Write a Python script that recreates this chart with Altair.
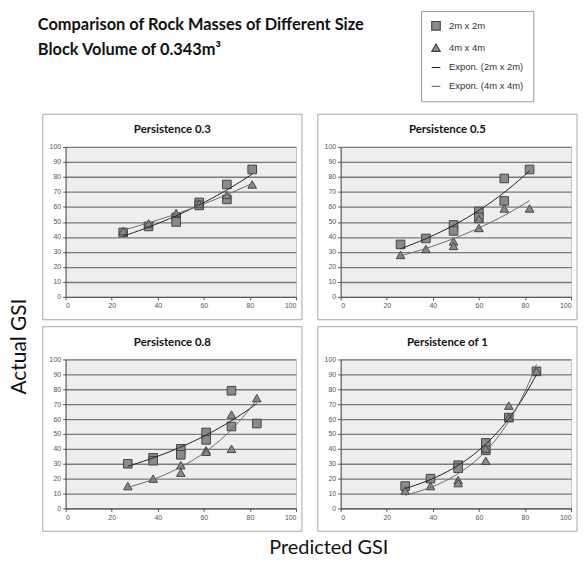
import altair as alt
import pandas as pd

# ---------------- data ----------------
PANELS = ["Persistence 0.3", "Persistence 0.5", "Persistence 0.8", "Persistence of 1"]
SERIES = ["2m x 2m", "4m x 4m", "Expon. (2m x 2m)", "Expon. (4m x 4m)"]
X_TICKS = [0, 20, 40, 60, 80, 100]
Y_TICKS = [0, 10, 20, 30, 40, 50, 60, 70, 80, 90, 100]
TITLE_LINES = ["Comparison of Rock Masses of Different Size", "Block Volume of 0.343m\u00b3"]
Y_TITLE = "Actual GSI"
X_TITLE = "Predicted GSI"

# Persistence 0.3
p1_sq_x = [25, 36, 48, 48, 58, 58, 70, 70, 81]
p1_sq_y = [43, 47, 53, 50, 63, 61, 75, 65, 85]
p1_tr_x = [25, 36, 48, 58, 70, 81]
p1_tr_y = [44, 49, 56, 62, 68, 75]

# Persistence 0.5
p2_sq_x = [26, 37, 49, 49, 60, 60, 71, 71, 82]
p2_sq_y = [35, 39, 48, 44, 57, 53, 79, 64, 85]
p2_tr_x = [26, 37, 49, 49, 60, 60, 71, 82]
p2_tr_y = [28, 32, 37, 34, 52, 46, 59, 59]

# Persistence 0.8
p3_sq_x = [27, 38, 38, 50, 50, 61, 61, 72, 72, 83]
p3_sq_y = [30, 34, 32, 40, 36, 51, 46, 79, 55, 57]
p3_tr_x = [27, 38, 50, 50, 61, 61, 72, 72, 83]
p3_tr_y = [15, 20, 29, 24, 39, 38, 63, 40, 74]

# Persistence of 1
p4_sq_x = [28, 39, 51, 51, 63, 63, 73, 85]
p4_sq_y = [15, 20, 29, 27, 44, 39, 61, 92]
p4_tr_x = [28, 39, 51, 51, 63, 63, 73, 73, 85]
p4_tr_y = [12, 15, 19, 17, 32, 40, 69, 61, 92]


def make_df(sq_x, sq_y, tr_x, tr_y):
    rows = [{"x": a, "y": b, "series": SERIES[0]} for a, b in zip(sq_x, sq_y)]
    rows += [{"x": a, "y": b, "series": SERIES[1]} for a, b in zip(tr_x, tr_y)]
    return pd.DataFrame(rows)


DFS = [
    make_df(p1_sq_x, p1_sq_y, p1_tr_x, p1_tr_y),
    make_df(p2_sq_x, p2_sq_y, p2_tr_x, p2_tr_y),
    make_df(p3_sq_x, p3_sq_y, p3_tr_x, p3_tr_y),
    make_df(p4_sq_x, p4_sq_y, p4_tr_x, p4_tr_y),
]

# ---------------- styling ----------------
TITLE_FONT = "Lato"
shape_scale = alt.Scale(domain=SERIES, range=["square", "triangle-up", "stroke", "stroke"])
fill_scale = alt.Scale(domain=SERIES, range=["#8a8a8a", "#8a8a8a", "#222222", "#6a6a6a"])
stroke_scale = alt.Scale(domain=SERIES, range=["#454545", "#454545", "#222222", "#6a6a6a"])
size_scale = alt.Scale(domain=SERIES, range=[75, 75, 330, 330])

legend = alt.Legend(
    title=None, orient="none", legendX=416, legendY=0,
    padding=10, rowPadding=9, labelOffset=8,
    labelFont="Liberation Sans", labelFontSize=9.5, labelColor="#333333",
    strokeColor="#9a9a9a", fillColor="white", symbolStrokeWidth=1.1,
)

W = 232
LEFT_PAD, TOP_PAD, BOTTOM_PAD, RIGHT_PAD = 23, 33, 23, 6


def panel(title, df, h):
    xenc = alt.X("x:Q", scale=alt.Scale(domain=[0, 100]),
                 axis=alt.Axis(values=X_TICKS, grid=False, title=None))
    yenc = alt.Y("y:Q", scale=alt.Scale(domain=[0, 100]),
                 axis=alt.Axis(values=Y_TICKS, grid=True, title=None))
    pts = alt.Chart(df).mark_point(filled=True, opacity=1, strokeWidth=1).encode(
        x=xenc, y=yenc,
        shape=alt.Shape("series:N", scale=shape_scale, legend=legend),
        fill=alt.Fill("series:N", scale=fill_scale, legend=legend),
        stroke=alt.Stroke("series:N", scale=stroke_scale, legend=legend),
        size=alt.Size("series:N", scale=size_scale, legend=legend),
    )
    lines = (
        alt.Chart(df)
        .transform_regression("x", "y", method="exp", groupby=["series"])
        .transform_calculate(series='"Expon. (" + datum.series + ")"')
        .mark_line(strokeWidth=1)
        .encode(x=xenc, y=yenc,
                stroke=alt.Stroke("series:N", scale=stroke_scale, legend=legend))
    )
    one = alt.Chart(alt.Data(values=[{"t": title}]))
    border = one.mark_rect(fillOpacity=0, stroke="#a6a6a6", strokeWidth=1).encode(
        x=alt.value(-LEFT_PAD), x2=alt.value(W + RIGHT_PAD),
        y=alt.value(-TOP_PAD), y2=alt.value(h + BOTTOM_PAD),
    )
    ttl = one.mark_text(font=TITLE_FONT, fontSize=11.5, fontWeight="bold",
                        color="#111111", baseline="middle").encode(
        x=alt.value((W + RIGHT_PAD - LEFT_PAD) / 2), y=alt.value(-17), text="t:N")
    return alt.layer(border, ttl, pts, lines).properties(
        width=W, height=h,
        view=alt.ViewBackground(fill="#eeeeee", stroke="#c4c4c4"),
    )


row1 = alt.hconcat(panel(PANELS[0], DFS[0], 151), panel(PANELS[1], DFS[1], 151), spacing=14)
row2 = alt.hconcat(panel(PANELS[2], DFS[2], 150), panel(PANELS[3], DFS[3], 150), spacing=14)

# x title: its origin lines up with the left edge of the first plot area
xlab = alt.Chart(alt.Data(values=[{"t": X_TITLE}])).mark_text(
    font=TITLE_FONT, fontSize=20, color="#111111", baseline="middle").encode(
    x=alt.value(265), y=alt.value(11), text="t:N").properties(width=400, height=20)

# y title: its origin lines up with the top edge of the first plot area
ylab = alt.Chart(alt.Data(values=[{"t": Y_TITLE}])).mark_text(
    font=TITLE_FONT, fontSize=21, color="#111111", baseline="middle", angle=270).encode(
    x=alt.value(12), y=alt.value(201), text="t:N").properties(width=22, height=360)

grid = alt.vconcat(row1, row2, xlab, spacing=5)
body = alt.hconcat(ylab, grid, spacing=12)

header = alt.layer(
    alt.Chart(alt.Data(values=[{"t": TITLE_LINES[0]}])).mark_text(
        font=TITLE_FONT, fontSize=16.5, fontWeight="bold", color="#111111",
        align="left", baseline="middle").encode(x=alt.value(30), y=alt.value(14), text="t:N"),
    alt.Chart(alt.Data(values=[{"t": TITLE_LINES[1]}])).mark_text(
        font=TITLE_FONT, fontSize=16.5, fontWeight="bold", color="#111111",
        align="left", baseline="middle").encode(x=alt.value(30), y=alt.value(39), text="t:N"),
).properties(width=550, height=100)

chart = alt.vconcat(header, body, spacing=3).properties(padding=0).configure_view(
    stroke=None
).configure_axis(
    labelFont="Liberation Sans", labelFontSize=7, labelColor="#555555",
    domainColor="#555555", tickColor="#555555", tickSize=3, labelPadding=2,
    gridColor="#7a7a7a", gridWidth=1.3,
)

chart.save("out.html", embed_options={"renderer": "svg", "actions": False})
